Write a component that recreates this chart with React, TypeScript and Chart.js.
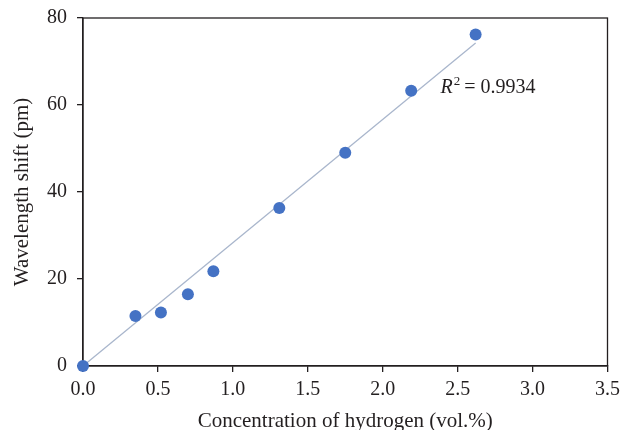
import React, { useEffect, useRef } from "react";
import { Chart, registerables } from "chart.js";

Chart.register(...registerables);

// Hydrogen concentration (vol.%) and measured wavelength shift (pm)
const concentration = [0, 0.35, 0.52, 0.7, 0.87, 1.31, 1.75, 2.19, 2.62];
const wavelengthShift = [0, 11.5, 12.3, 16.5, 21.8, 36.3, 49.0, 63.3, 76.2];
const xTicks = [0, 0.5, 1.0, 1.5, 2.0, 2.5, 3.0, 3.5];
const yTicks = [0, 20, 40, 60, 80];
const rSquaredLabel = "0.9934";

const FONT = "'Liberation Serif', 'DejaVu Serif', serif";
const INK = "#231f20";

// Linear trendline forced through the origin (least squares)
function fitThroughOrigin(xs: number[], ys: number[]) {
  let sxy = 0;
  let sxx = 0;
  for (let i = 0; i < xs.length; i++) {
    sxy += xs[i] * ys[i];
    sxx += xs[i] * xs[i];
  }
  return sxy / sxx;
}

const framePlugin = {
  id: "frame",
  beforeDatasetsDraw(chart: any) {
    const { ctx, chartArea } = chart;
    ctx.save();
    ctx.strokeStyle = INK;
    ctx.lineWidth = 1.3;
    ctx.strokeRect(chartArea.left, chartArea.top, chartArea.right - chartArea.left, chartArea.bottom - chartArea.top);
    ctx.restore();
  },
};

const r2Plugin = {
  id: "r2label",
  afterDatasetsDraw(chart: any) {
    const { ctx, scales } = chart;
    const x = scales.x.getPixelForValue(2.385);
    const y = scales.y.getPixelForValue(62.8);
    ctx.save();
    ctx.fillStyle = INK;
    ctx.textBaseline = "alphabetic";
    ctx.textAlign = "left";
    ctx.font = `italic 20px ${FONT}`;
    ctx.fillText("R", x, y);
    let cx = x + ctx.measureText("R").width + 1;
    ctx.font = `13px ${FONT}`;
    ctx.fillText("2", cx, y - 8);
    cx += ctx.measureText("2").width + 4;
    ctx.font = `20px ${FONT}`;
    ctx.fillText("= " + rSquaredLabel, cx, y);
    ctx.restore();
  },
};

export default function App() {
  const ref = useRef<HTMLCanvasElement | null>(null);

  useEffect(() => {
    document.body.style.margin = "0";
    const canvas = ref.current;
    if (!canvas) return;
    const slope = fitThroughOrigin(concentration, wavelengthShift);
    const xEnd = concentration[concentration.length - 1];
    const trend = [
      { x: 0, y: 0 },
      { x: xEnd, y: slope * xEnd },
    ];
    const points = concentration.map((c, i) => ({ x: c, y: wavelengthShift[i] }));

    const chart = new Chart(canvas, {
      type: "scatter",
      data: {
        datasets: [
          {
            type: "line",
            data: trend,
            borderColor: "#a9b6cc",
            borderWidth: 1.3,
            pointRadius: 0,
            fill: false,
            clip: false,
            order: 2,
          } as any,
          {
            data: points,
            backgroundColor: "#4472c4",
            borderColor: "#4472c4",
            pointRadius: 6,
            pointBorderWidth: 0,
            clip: false,
            order: 1,
          },
        ],
      },
      options: {
        animation: false,
        responsive: false,
        layout: { padding: { top: 18, right: 14, left: 10, bottom: 0 } },
        plugins: {
          legend: { display: false },
          tooltip: { enabled: false },
        },
        scales: {
          x: {
            type: "linear",
            min: 0,
            max: 3.5,
            afterBuildTicks: (s: any) => {
              s.ticks = xTicks.map((v) => ({ value: v }));
            },
            afterFit: (s: any) => {
              s.height = 64;
            },
            ticks: {
              color: INK,
              font: { family: FONT, size: 20 },
              padding: 6,
              callback: (v: any) => Number(v).toFixed(1),
            },
            grid: {
              display: true,
              drawOnChartArea: false,
              drawTicks: true,
              tickLength: 6,
              color: INK,
              lineWidth: 1.3,
            },
            border: { display: true, color: INK, width: 1.3 },
            title: {
              display: true,
              text: "Concentration of hydrogen (vol.%)",
              color: INK,
              font: { family: FONT, size: 21 },
              padding: { top: 0, bottom: -4 },
            },
          },
          y: {
            type: "linear",
            min: 0,
            max: 80,
            afterBuildTicks: (s: any) => {
              s.ticks = yTicks.map((v) => ({ value: v }));
            },
            afterFit: (s: any) => {
              s.width = 73;
            },
            ticks: {
              color: INK,
              font: { family: FONT, size: 20 },
              padding: 10,
            },
            grid: {
              display: true,
              drawOnChartArea: false,
              drawTicks: true,
              tickLength: 6,
              color: INK,
              lineWidth: 1.3,
            },
            border: { display: true, color: INK, width: 1.3 },
            title: {
              display: true,
              text: "Wavelength shift (pm)",
              color: INK,
              font: { family: FONT, size: 21 },
              padding: { top: 0, bottom: 0 },
            },
          },
        },
      },
      plugins: [framePlugin, r2Plugin],
    } as any);

    return () => chart.destroy();
  }, []);

  return (
    <div style={{ width: 622, height: 430, overflow: "hidden", position: "relative" }}>
      <canvas
        ref={ref}
        width={626}
        height={434}
        style={{ display: "block", position: "absolute", left: 0, top: -4 }}
      />
    </div>
  );
}
